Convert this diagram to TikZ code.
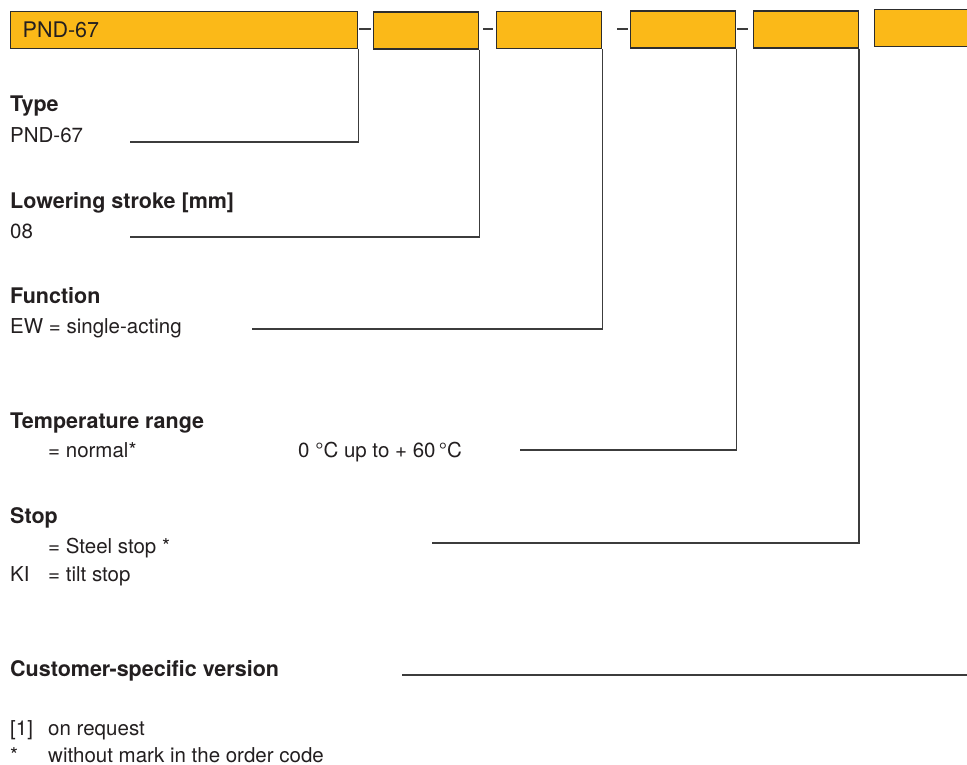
\documentclass[tikz,border=0pt]{standalone}
\usepackage{fontspec}
\setmainfont{TeX Gyre Heros}
\usepackage{tikz}

\definecolor{codeorange}{RGB}{251,185,24}
\definecolor{boxline}{RGB}{45,45,45}
\definecolor{linegray}{RGB}{60,60,60}
\definecolor{txtgray}{RGB}{35,31,32}

\begin{document}
\begin{tikzpicture}[x=1pt,y=-1pt,
    every node/.style={font=\fontsize{20.5}{24}\selectfont, text=txtgray, inner sep=0pt},
    head/.style={font=\fontsize{21.5}{24}\selectfont\bfseries, anchor=base west},
    item/.style={anchor=base west},
    codebox/.style={draw=boxline, line width=1.4pt, fill=codeorange, anchor=north west,
        minimum height=37pt, minimum width=105pt},
    leader/.style={draw=linegray, line width=1.2pt}]
    \clip (0,0) rectangle (967,765);

    % Order code boxes
    \node[codebox, text width=323pt, inner xsep=12pt, align=left,
        font=\fontsize{21.5}{24}\selectfont] (b1) at (10,11) {PND-67};
    \node[codebox] (b2) at (373,11.5) {};
    \node[codebox] (b3) at (496,11) {};
    \node[codebox] (b4) at (630,10.5) {};
    \node[codebox] (b5) at (752.5,10.5) {};
    \node[codebox] (b6) at (874,9) {};

    % Dashes
    \draw[leader] (359,29) -- (371,29);
    \draw[leader] (483,29) -- (493,29);
    \draw[leader] (617,29) -- (628,29);
    \draw[leader] (737,29) -- (748,29);

    % Type
    \node[head] (typehd) at (10,112) {Type};
    \node[item] (typeval) at (10,143) {PND-67};
    \coordinate (typeend) at (130,142);
    \draw[leader] (b1.south east) |- (typeend);

    % Lowering stroke
    \node[head] (strokehd) at (10,208) {Lowering stroke [mm]};
    \node[item] (strokeval) at (10,238) {08};
    \coordinate (strokeend) at (130,237);
    \draw[leader] (b2.south east) |- (strokeend);

    % Function
    \node[head] (funchd) at (10,303) {Function};
    \node[item] (funcval) at (10,333) {EW = single-acting};
    \coordinate (funcend) at (252,329);
    \draw[leader] (b3.south east) |- (funcend);

    % Temperature range
    \node[head] (temphd) at (10,428) {Temperature range};
    \node[item] (tempval) at (48,457) {= normal*};
    \node[item] (temprng) at (298,457) {0 °C up to + 60\,°C};
    \coordinate (tempend) at (520,450);
    \draw[leader] (b4.south east) |- (tempend);

    % Stop
    \node[head] (stophd) at (10,523) {Stop};
    \node[item] (stopval) at (48,553) {= Steel stop *};
    \node[item] (kikey) at (10,581) {KI};
    \node[item] (kival) at (48,581) {= tilt stop};
    \coordinate (stopend) at (432,543);
    \draw[leader] (b5.south east) |- (stopend);

    % Customer-specific version
    \node[head] (custhd) at (10,676) {Customer-specific version};
    \coordinate (custa) at (402,675);
    \coordinate (custb) at (967,675);
    \draw[leader] (custa) -- (custb);

    % Notes
    \node[item] (reqkey) at (10,735) {[1]};
    \node[item] (reqval) at (48,735) {on request};
    \node[item] (starkey) at (10,762) {*};
    \node[item] (starval) at (48,762) {without mark in the order code};
\end{tikzpicture}
\end{document}
